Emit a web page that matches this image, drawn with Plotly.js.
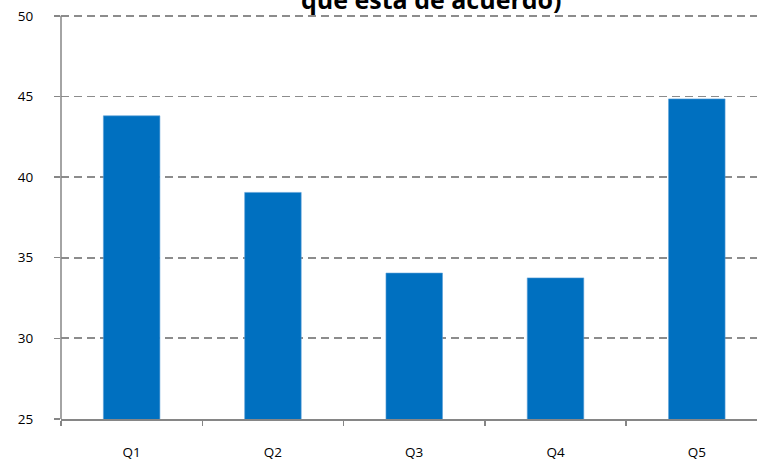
<!DOCTYPE html>
<html>
<head>
<meta charset="utf-8">
<script src="https://cdn.plot.ly/plotly-3.0.1.min.js"></script>
<style>html,body{margin:0;padding:0;overflow:hidden;background:#fff;}#chart{width:757px;height:461px;}</style>
</head>
<body>
<div id="chart"></div>
<script>
var categories = ["Q1", "Q2", "Q3", "Q4", "Q5"];
var values = [43.8, 39.05, 34.05, 33.75, 44.85];
var yTicks = [25, 30, 35, 40, 45, 50];
var titleLine = "que está de acuerdo)";

var trace = {
  type: "bar",
  x: categories,
  y: values,
  marker: {color: "#0070c0", line: {color: "#5a9fd8", width: 0.6}},
  hoverinfo: "x+y"
};

var layout = {
  width: 757,
  height: 461,
  margin: {l: 61, r: 0, t: 11, b: 42, pad: 0},
  paper_bgcolor: "#ffffff",
  plot_bgcolor: "rgba(0,0,0,0)",
  bargap: 0.6,
  showlegend: false,
  font: {family: "Open Sans, Liberation Sans, sans-serif", size: 13, color: "#000000"},
  xaxis: {
    type: "category",
    range: [-0.5, 4.426],
    showline: true,
    linecolor: "#868686",
    linewidth: 1.5,
    ticks: "outside",
    tickson: "boundaries",
    ticklen: 5,
    tickcolor: "#868686",
    tickwidth: 1.5,
    ticklabelstandoff: 20,
    showgrid: false,
    zeroline: false,
    tickfont: {size: 13.5, color: "#000000"}
  },
  yaxis: {
    range: [25, 50.3],
    tickvals: yTicks,
    showline: false,
    ticks: "outside",
    ticklen: 6,
    tickcolor: "#868686",
    tickwidth: 1.5,
    showgrid: true,
    gridcolor: "#8c8c8c",
    gridwidth: 1.8,
    griddash: "8px,5px",
    zeroline: false,
    ticklabelstandoff: 18,
    tickfont: {size: 13.5, color: "#000000"}
  },
  shapes: [{
    type: "line", xref: "paper", yref: "y",
    x0: 0, x1: 0, y0: 25, y1: 50,
    line: {color: "#868686", width: 1.5}
  }],
  annotations: [{
    text: "<b>" + titleLine + "</b>",
    xref: "paper", yref: "paper",
    x: (431 - 61) / 696, xanchor: "center",
    y: 1, yshift: -7, yanchor: "bottom",
    showarrow: false,
    font: {family: "Open Sans, Liberation Sans, sans-serif", size: 25, color: "#000000"}
  }]
};

Plotly.newPlot("chart", [trace], layout, {displayModeBar: false, staticPlot: true});
</script>
</body>
</html>
